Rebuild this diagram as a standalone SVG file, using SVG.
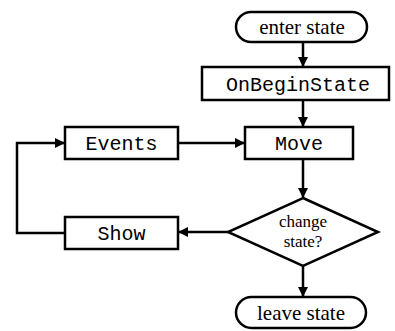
<svg xmlns="http://www.w3.org/2000/svg" width="395" height="331" viewBox="0 0 395 331">
<defs>
<marker id="ah" viewBox="0 0 10 10" refX="10" refY="5" markerWidth="11" markerHeight="10" markerUnits="userSpaceOnUse" orient="auto">
<path d="M0,0 L10,5 L0,10 z" fill="#000"/>
</marker>
<style>
.shape{fill:#fff;stroke:#000;stroke-width:2.5}
.edge{fill:none;stroke:#000;stroke-width:2.5;marker-end:url(#ah)}
.serif{font-family:"Liberation Serif","Times New Roman",serif;font-size:21px;text-anchor:middle;fill:#000}
.mono{font-family:"Liberation Mono","Courier New",monospace;font-size:20px;text-anchor:middle;fill:#000}
.small{font-family:"Liberation Serif","Times New Roman",serif;font-size:17px;text-anchor:middle;fill:#000}
</style>
</defs>
<rect width="395" height="331" fill="#fff"/>
<g id="connectors">
<line class="edge" x1="303" y1="42" x2="303" y2="67"/>
<line class="edge" x1="303" y1="100" x2="303" y2="127"/>
<line class="edge" x1="178" y1="143" x2="245" y2="143"/>
<line class="edge" x1="303" y1="159" x2="303" y2="198"/>
<line class="edge" x1="228" y1="232" x2="178" y2="232"/>
<polyline class="edge" points="65,233 17,233 17,143 65,143"/>
<line class="edge" x1="303" y1="266" x2="303" y2="297"/>
</g>
<g id="enter">
<rect class="shape" x="236" y="12" width="131" height="30" rx="15"/>
<text class="serif" x="302" y="34">enter state</text>
</g>
<g id="onbegin">
<rect class="shape" x="202" y="67" width="187" height="33"/>
<text class="mono" x="298" y="91">OnBeginState</text>
</g>
<g id="move">
<rect class="shape" x="245" y="127" width="108" height="32"/>
<text class="mono" x="299" y="150">Move</text>
</g>
<g id="events">
<rect class="shape" x="65" y="127" width="113" height="32"/>
<text class="mono" x="121.5" y="150">Events</text>
</g>
<g id="decision">
<polygon class="shape" points="303,198 378,232 303,266 228,232"/>
<text class="small" x="303" y="227">change</text>
<text class="small" x="303" y="247">state?</text>
</g>
<g id="show">
<rect class="shape" x="65" y="217" width="113" height="32"/>
<text class="mono" x="121.5" y="240">Show</text>
</g>
<g id="leave">
<rect class="shape" x="236" y="297" width="130" height="31" rx="15.5"/>
<text class="serif" x="301" y="320">leave state</text>
</g>
</svg>
